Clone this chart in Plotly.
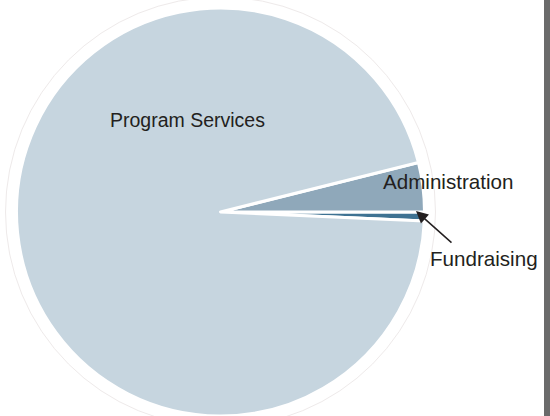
import plotly.graph_objects as go

# Data
categories = ["Fundraising", "Administration", "Program Services"]
shares = [0.7, 3.9, 95.4]
slice_colors = ["#3e7292", "#8fa8ba", "#c6d5df"]

W, H = 550, 416
cx, cy, r = 220.5, 212.0, 204.0  # pie placement in px

fig = go.Figure()
fig.add_trace(go.Pie(
    labels=categories,
    values=shares,
    sort=False,
    direction="counterclockwise",
    rotation=90,
    marker=dict(colors=slice_colors, line=dict(color="white", width=3)),
    textinfo="none",
    hoverinfo="label+percent",
    showlegend=False,
    domain=dict(x=[(cx - r) / W, (cx + r) / W], y=[1 - (cy + r) / H, 1 - (cy - r) / H]),
))

font_col = "#231f20"
fam = "Liberation Sans, Arial, Helvetica, sans-serif"

def px(x):
    return x / W

def py(y):
    return 1 - y / H

annotations = [
    dict(text=categories[2], x=px(187), y=py(120), xref="paper", yref="paper",
         xanchor="center", yanchor="middle",
         showarrow=False, font=dict(size=19.5, color=font_col, family=fam)),
    dict(text=categories[1], x=px(448), y=py(181), xref="paper", yref="paper",
         xanchor="center", yanchor="middle",
         showarrow=False, font=dict(size=20.6, color=font_col, family=fam)),
    dict(text=categories[0], x=px(484), y=py(258), xref="paper", yref="paper",
         xanchor="center", yanchor="middle",
         showarrow=False, font=dict(size=20.6, color=font_col, family=fam)),
    dict(text="", x=px(416), y=py(211), xref="paper", yref="paper",
         showarrow=True, ax=37, ay=33, arrowhead=2, arrowsize=1.6, arrowwidth=1.5,
         arrowcolor="#231f20"),
]

shapes = [
    # faint outer halo ring
    dict(type="circle", xref="paper", yref="paper", layer="below",
         x0=px(cx - r - 11), x1=px(cx + r + 11), y0=py(cy + r + 11), y1=py(cy - r - 11),
         line=dict(color="#eeeaea", width=1), fillcolor="rgba(0,0,0,0)"),
    # gray bar on the right edge
    dict(type="rect", xref="paper", yref="paper", x0=px(544), x1=px(560), y0=-0.02, y1=1.02,
         layer="above", line=dict(width=0), fillcolor="#6b6b6b"),
]

fig.update_layout(
    width=W, height=H,
    margin=dict(l=0, r=0, t=0, b=0, autoexpand=False),
    paper_bgcolor="white",
    plot_bgcolor="white",
    annotations=annotations,
    shapes=shapes,
)

fig.write_html("out.html", config={"displayModeBar": False},
               post_script="document.body.style.margin='0';document.body.style.overflow='hidden';")
